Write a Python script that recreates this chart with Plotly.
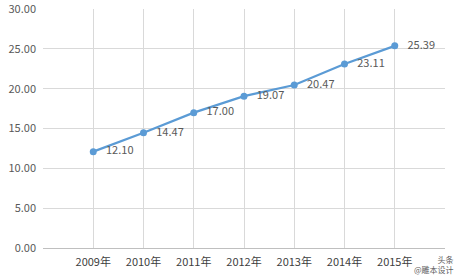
import plotly.graph_objects as go

years = [2009, 2010, 2011, 2012, 2013, 2014, 2015]
year_labels = ["2009年", "2010年", "2011年", "2012年", "2013年", "2014年", "2015年"]
values = [12.10, 14.47, 17.00, 19.07, 20.47, 23.11, 25.39]
y_ticks = [0, 5, 10, 15, 20, 25, 30]

font_family = "Noto Sans CJK SC, Microsoft YaHei, sans-serif"
txt_color = "#595959"

fig = go.Figure()
fig.add_trace(go.Scatter(
    x=years, y=values,
    mode="lines+markers+text",
    line=dict(color="#5B9BD5", width=2.25),
    marker=dict(color="#5B9BD5", size=7),
    text=[f"   {v:.2f}" for v in values],
    textposition="middle right",
    textfont=dict(size=11, color=txt_color, family=font_family),
    cliponaxis=False,
    hoverinfo="skip",
))

tickvals = [years[0] - 1] + years + [years[-1] + 1]
ticktext = [""] + year_labels + [""]

fig.update_layout(
    width=456, height=275,
    margin=dict(l=43, r=11, t=9, b=27),
    paper_bgcolor="white", plot_bgcolor="white",
    showlegend=False,
    font=dict(family=font_family, size=11, color=txt_color),
    xaxis=dict(
        range=[years[0] - 1, years[-1] + 1],
        tickvals=tickvals, ticktext=ticktext,
        showgrid=True, gridcolor="#D9D9D9", gridwidth=1,
        showline=True, linecolor="#BFBFBF", linewidth=1,
        zeroline=False, ticks="", tickfont=dict(size=11, color="#404040"),
        ticklabelstandoff=4, automargin=False,
    ),
    yaxis=dict(
        range=[0, 30.02], tickvals=y_ticks,
        ticktext=[f"{v:.2f}" for v in y_ticks],
        showgrid=True, gridcolor="#D9D9D9", gridwidth=1,
        showline=False, zeroline=False, ticks="",
        tickfont=dict(size=11, color=txt_color),
        ticklabelstandoff=6, automargin=False,
    ),
)

fig.add_annotation(
    text="头条<br>@雕本设计", xref="paper", yref="paper",
    x=1.0, y=-0.02, xanchor="right", yanchor="top", align="right",
    showarrow=False, font=dict(size=8, color="#606060", family=font_family),
    xshift=10, borderpad=0,
)

fig.write_html("out.html")
